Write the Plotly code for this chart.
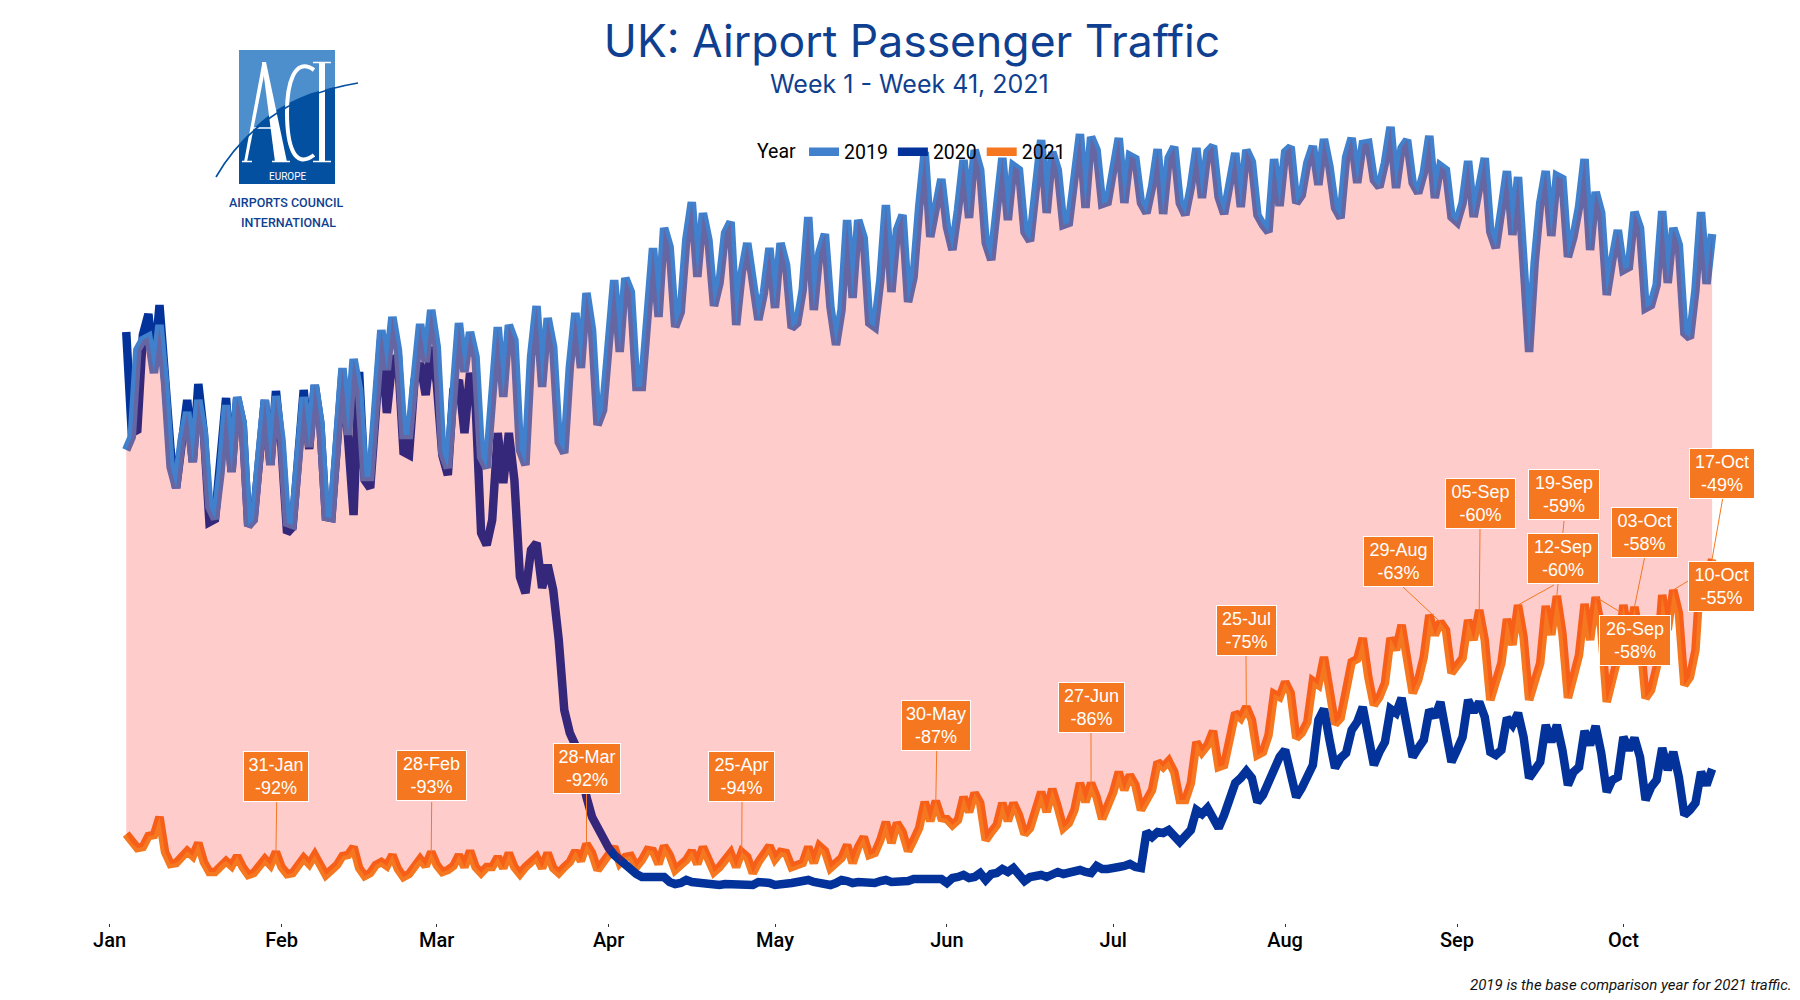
import datetime as dt
import re
import pandas as pd
import plotly.graph_objects as go

# Daily traffic (relative index), 4 Jan - 17 Oct
traffic_2019 = [
 450,463,550,560,563,527,575,517,433,412,460,488,438,500,467,393,381,427,495,428,
 503,477,374,380,443,500,435,504,460,377,375,443,503,453,515,477,383,382,470,532,
 465,541,510,423,423,493,570,530,583,550,465,465,520,576,538,590,553,447,432,510,
 577,528,568,543,443,432,510,573,503,575,560,450,435,543,594,513,582,553,458,447,
 533,587,532,607,570,475,490,560,620,548,622,608,513,513,587,652,583,672,653,573,
 588,660,698,623,687,660,594,617,667,678,575,627,657,617,580,607,652,592,657,635,
 572,577,610,683,590,647,666,593,555,590,680,602,680,662,577,573,620,695,608,670,
 685,598,623,693,748,663,697,721,673,650,690,740,682,750,730,657,640,697,742,680,
 734,730,668,659,703,760,687,748,730,675,677,723,766,692,763,750,696,698,730,762,
 697,744,741,697,687,713,751,686,742,753,697,685,713,752,702,748,754,703,686,713,
 747,693,750,738,685,675,668,741,694,748,753,697,705,737,754,715,761,733,692,682,
 743,762,717,756,757,720,713,737,773,712,752,760,717,707,727,764,702,734,730,683,
 678,697,739,683,713,742,668,652,690,729,665,723,637,548,637,697,729,664,724,721,
 643,663,693,741,650,708,687,605,640,670,630,633,688,672,592,595,615,689,617,672,
 655,567,562,610,688,616,666]

traffic_2020 = [
 568,467,470,565,586,532,595,527,450,412,460,500,438,516,467,378,381,450,502,428,
 502,477,374,383,450,500,435,509,453,367,373,450,510,451,515,477,383,382,463,528,
 462,385,528,420,412,488,563,487,540,543,448,445,520,537,505,553,517,445,425,510,
 520,467,527,497,367,355,380,467,417,467,420,323,307,350,357,312,335,310,260,190,
 167,155,127,103,83,72,60,52,45,40,35,30,26,23,23,23,23,23,18,16,
 17,20,18,17,17,16,14,15,16,16,15,16,15,15,18,18,17,15,15,15,
 17,18,19,20,18,17,16,15,17,20,19,17,18,18,16,17,19,20,18,18,
 18,19,21,21,21,21,21,21,17,22,23,25,22,23,27,20,26,27,31,28,
 32,25,19,23,24,25,23,25,28,26,28,30,30,28,27,34,31,31,31,33,
 34,36,33,32,68,63,68,67,70,65,58,64,70,90,86,92,83,72,85,102,
 117,122,129,122,98,105,118,133,143,150,128,103,112,122,135,180,191,160,132,142,
 147,170,178,193,163,135,148,158,191,187,202,173,143,152,160,190,183,198,170,138,
 150,163,200,188,198,183,148,145,150,182,175,187,163,122,130,138,175,158,175,150,
 115,128,133,169,155,174,147,108,120,123,163,150,162,143,100,113,120,152,130,148,
 123,85,90,97,128,115,131]

traffic_2021 = [
 66,57,52,53,64,65,83,48,36,37,42,49,44,57,38,28,28,35,39,34,
 44,33,25,27,33,41,35,48,33,26,27,35,42,36,45,35,25,30,35,44,
 45,53,32,24,27,35,38,34,45,31,23,26,35,41,34,48,35,28,30,34,
 45,33,49,33,27,33,33,43,32,47,33,26,33,37,43,32,47,32,27,33,
 38,49,39,56,47,30,38,47,53,37,43,44,33,40,50,49,36,54,45,30,
 35,40,49,36,53,42,28,33,40,47,33,48,43,27,38,45,54,41,48,47,
 33,35,37,53,37,54,49,32,37,42,55,37,53,63,45,47,60,78,57,77,
 68,49,60,72,98,79,99,82,81,75,80,103,88,107,97,60,68,75,97,79,
 97,85,66,72,90,108,88,111,93,72,77,90,117,98,117,103,81,95,108,128,
 110,125,115,90,100,110,138,133,139,128,100,100,117,158,148,155,169,133,135,157,
 187,182,193,180,145,148,165,206,203,218,207,162,167,178,219,215,243,210,176,182,
 207,238,241,262,223,195,203,217,262,250,275,243,207,220,243,285,265,278,270,227,
 234,242,280,260,290,260,200,217,237,281,255,295,263,200,220,237,294,265,304,267,
 202,223,245,296,260,303,272,198,217,243,295,263,293,263,202,210,233,305,270,310,
 287,215,223,250,335,310,341]

assert len(traffic_2019) == len(traffic_2020) == len(traffic_2021) == 287

dates = pd.date_range("2021-01-04", periods=287)

month_ticks = ["2021-%02d-01" % m for m in range(1, 11)]
month_labels = ["Jan", "Feb", "Mar", "Apr", "May", "Jun", "Jul", "Aug", "Sep", "Oct"]

label_dates = ["2021-01-31", "2021-02-28", "2021-03-28", "2021-04-25", "2021-05-30",
               "2021-06-27", "2021-07-25", "2021-08-29", "2021-09-05", "2021-09-12",
               "2021-09-19", "2021-09-26", "2021-10-03", "2021-10-10", "2021-10-17"]
label_names = ["31-Jan", "28-Feb", "28-Mar", "25-Apr", "30-May", "27-Jun", "25-Jul", "29-Aug",
               "05-Sep", "12-Sep", "19-Sep", "26-Sep", "03-Oct", "10-Oct", "17-Oct"]
label_pcts = ["-92%", "-93%", "-92%", "-94%", "-87%", "-86%", "-75%", "-63%",
              "-60%", "-60%", "-59%", "-58%", "-58%", "-55%", "-49%"]

# Label box placement (page pixels): centre x, centre y, width
box_layout = [(276, 776.5, 66), (431.5, 775.5, 71), (587, 768.5, 68), (741.7, 776, 67),
              (936, 725.5, 70), (1091.5, 707.5, 67), (1246.5, 630.4, 61), (1398.5, 561, 71),
              (1480.4, 503, 71), (1563, 558.6, 72), (1564, 495, 72), (1635, 640, 72),
              (1644.5, 532.6, 67), (1721.5, 586.5, 67), (1722, 473.4, 66)]
# Where each leader leaves its box (page pixels)
leader_start = [(276.7, 802), (431.7, 802), (586.5, 794), (742, 802), (936.7, 751), (1091, 733),
                (1246, 656), (1403, 587), (1480, 529), (1554, 585), (1564, 521), (1625, 615),
                (1644.5, 558), (1688, 581), (1722.6, 499)]

C2019, C2020, C2021 = "#4080CC", "#03339A", "#F57720"
NAVY = "#0F3F90"
WIDTH, HEIGHT = 1800, 1000
L, R, T, B = 80, 40, 0, 77
PW, PH = WIDTH - L - R, HEIGHT - T - B


def fx(x):
    return (x - L) / PW


def fy(y):
    return 1 - (y - T) / PH


def px_date(x):
    return dt.datetime(2021, 1, 1) + dt.timedelta(days=(x - 109.6) / 5.545)


def P(spec):
    """Path string in page pixels -> paper coordinates."""
    out, is_x = [], True
    for tok in re.findall(r"[A-Za-z]|-?[\d.]+", spec):
        if tok.isalpha():
            out.append(tok)
        else:
            out.append(str(fx(float(tok))) if is_x else str(fy(float(tok))))
            is_x = not is_x
    return " ".join(out)


fig = go.Figure()
# Drawn 2021 first so that 2020 and then 2019 lie on top; the legend order is reversed
for name, vals, col in [("2021", traffic_2021, C2021), ("2020", traffic_2020, C2020),
                        ("2019", traffic_2019, C2019)]:
    fig.add_trace(go.Scatter(x=dates, y=vals, name=name, mode="lines",
                             line=dict(color=col, width=8.5, shape="linear")))
# Gap between 2019 and 2021, translucent, over the lines
fig.add_trace(go.Scatter(x=list(dates) + list(dates[::-1]),
                         y=traffic_2019 + traffic_2021[::-1],
                         mode="lines", fill="toself", fillcolor="rgba(255,0,0,0.2)",
                         line=dict(width=0), showlegend=False, hoverinfo="skip"))

shapes = []
annos = []


def logo_shape(path, fill=None, line=None, w=0):
    shapes.append(dict(type="path", xref="paper", yref="paper", path=P(path), layer="above",
                       fillcolor=fill or "rgba(0,0,0,0)",
                       line=dict(color=line or "rgba(0,0,0,0)", width=w)))


LOGO_L, LOGO_D = "#4D8FCC", "#0450A0"
logo_shape("M239 50 L335 50 L335 184 L239 184 Z", fill=LOGO_L)
logo_shape("M239 184 L239 147 C258 118 290 96 335 87 L335 184 Z", fill=LOGO_D)
# A
logo_shape("M262 62 L266 62 L287 162 L275 162 Z", fill="white")
logo_shape("M262.5 62 L244 162 L247 162 L265 70 Z", fill="white")
logo_shape("M252 128 L278 128", line="white", w=1.5)
logo_shape("M242 161.5 L252 161.5", line="white", w=1.5)
logo_shape("M272 161.5 L290 161.5", line="white", w=1.5)
# C
logo_shape("M314 70 C294 56 287 85 287 112 C287 145 294 170 314 155", line="white", w=4)
# I
logo_shape("M319 62 L325 62 L325 162 L319 162 Z", fill="white")
logo_shape("M313 62.5 L331 62.5", line="white", w=1.5)
logo_shape("M313 161.5 L331 161.5", line="white", w=1.5)
# Swoosh
logo_shape("M216 177 C240 135 285 95 358 83", line=LOGO_D, w=1.6)

# Leaders
for d, (sx, sy) in zip(label_dates, leader_start):
    i = (pd.Timestamp(d) - dates[0]).days
    shapes.append(dict(type="line", xref="x", yref="y", layer="above",
                       x0=px_date(sx), y0=900 - sy, x1=dates[i], y1=traffic_2021[i],
                       line=dict(color=C2021, width=1)))

for name, pct, (cx, cy, w) in zip(label_names, label_pcts, box_layout):
    annos.append(dict(xref="paper", yref="paper", x=fx(cx), y=fy(cy), xanchor="center",
                      yanchor="middle", showarrow=False, text=f"{name}<br>{pct}", align="center",
                      font=dict(family="Liberation Sans", size=18, color="white"),
                      bgcolor=C2021, bordercolor="white", borderwidth=1, borderpad=2,
                      width=w - 6, height=45))


def text_at(x, y, text, size, color, family, **kw):
    annos.append(dict(xref="paper", yref="paper", x=fx(x), y=fy(y), xanchor=kw.pop("xanchor", "center"),
                      yanchor="middle", showarrow=False, text=text,
                      font=dict(family=family, size=size, color=color, **kw)))


text_at(909, 84, "Week 1 - Week 41, 2021", 25, NAVY, "Inter")
text_at(287.5, 176, "EUROPE", 10, "white", "Roboto")
text_at(286, 202, "AIRPORTS COUNCIL", 12.5, NAVY, "Roboto", weight=500)
text_at(288, 222, "INTERNATIONAL", 12.5, NAVY, "Roboto", weight=500)
text_at(1794, 985, "2019 is the base comparison year for 2021 traffic.", 15, "#111111", "Roboto",
        xanchor="right", style="italic")

fig.update_layout(
    width=WIDTH, height=HEIGHT, autosize=False,
    margin=dict(l=L, r=R, t=T, b=B, autoexpand=False),
    paper_bgcolor="white", plot_bgcolor="white",
    title=dict(text="UK: Airport Passenger Traffic", x=912 / WIDTH, xref="container", xanchor="center",
               y=1 - 41 / HEIGHT, yref="container", yanchor="middle",
               font=dict(family="Inter", size=44.5, color=NAVY)),
    legend=dict(title=dict(text="Year", side="left", font=dict(family="Roboto", size=19.5, color="black")),
                orientation="h", x=fx(755), xanchor="left", y=fy(152), yanchor="middle",
                bgcolor="rgba(0,0,0,0)", font=dict(family="Roboto", size=19.5, color="black"),
                traceorder="reversed", itemclick=False, itemdoubleclick=False),
    xaxis=dict(type="date", range=[px_date(L), px_date(WIDTH - R)], showgrid=False, zeroline=False,
               showline=False, tickmode="array", tickvals=month_ticks, ticktext=month_labels,
               ticks="outside", ticklen=3, tickwidth=1, tickcolor="#333333", ticklabelstandoff=-4,
               tickfont=dict(family="Roboto", size=20, color="black", weight=500), fixedrange=True),
    yaxis=dict(visible=False, range=[900 - (HEIGHT - B), 900], fixedrange=True),
    shapes=shapes, annotations=annos, showlegend=True,
)

fig.write_html("out.html", post_script="document.body.style.margin='0';",
               config=dict(displayModeBar=False))
